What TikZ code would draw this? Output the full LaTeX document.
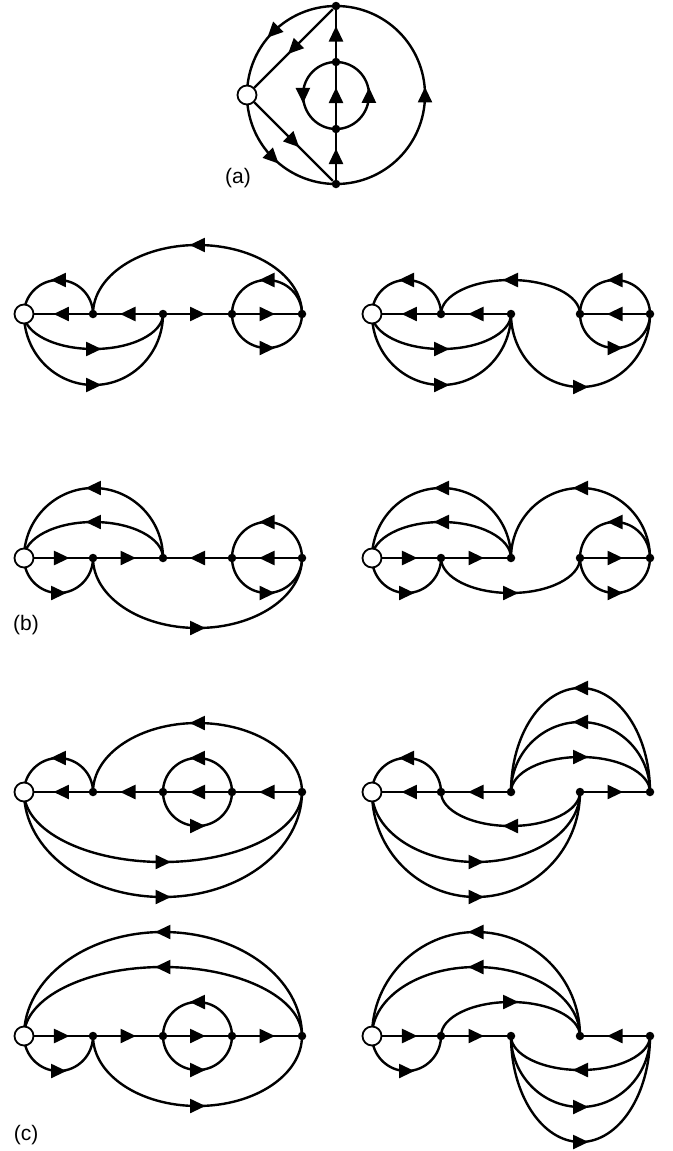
\documentclass[tikz,border=0pt]{standalone}
\usepackage{fontspec}
\setmainfont{Liberation Sans}
\usetikzlibrary{arrows.meta, calc, decorations.markings, backgrounds}
\tikzset{
  bow/.style={to path={let \p1=(\tikztostart), \p2=(\tikztotarget),
    \n1={abs(\x2-\x1)/2}, \n2={\x1>\x2 ? 0 : 180} in
    arc[start angle=\n2, end angle=180-\n2, x radius=\n1, y radius=#1pt]}},
  flow/.style={line width=2.4pt, postaction={decorate}, decoration={markings,
    mark=at position .5 with {\arrow[xshift=8pt]{Triangle[length=15.5pt, width=14pt]}}}},
  hub/.style={circle, draw, line width=1.8pt, fill=white, minimum size=19pt, inner sep=0pt},
  dot/.style={circle, fill=black, minimum size=8.5pt, inner sep=0pt},
  tag/.style={font=\fontsize{21}{21}\selectfont, inner sep=0pt}
}
\begin{document}
\begin{tikzpicture}[x=1pt, y=1pt]
  \useasboundingbox (0,0) rectangle (672,-1151);
  \node[hub] (aO) at (247,-95) {};
  \node[dot] (aT) at (336,-6) {};
  \node[dot] (aB) at (336,-184) {};
  \node[dot] (aU) at (336,-62) {};
  \node[dot] (aL) at (336,-129) {};
  \coordinate (aE) at (425,-95);
  \coordinate (aW) at (303,-95);
  \coordinate (aF) at (369,-95);
  \node[tag] (la) at (238,-178) {(a)};
  \node[tag] (lb) at (26,-625) {(b)};
  \node[tag] (lc) at (26,-1135) {(c)};
  \foreach \n/\x/\y in {b1/24/314, b2/372/314, b3/24/558, b4/372/558, c1/24/792, c2/372/792, c3/24/1036, c4/372/1036} {
    \node[hub] (\n O) at (\x,-\y) {};
    \node[dot] (\n A) at (\x+69,-\y) {};
    \node[dot] (\n B) at (\x+139,-\y) {};
    \node[dot] (\n C) at (\x+208,-\y) {};
    \node[dot] (\n D) at (\x+278,-\y) {};
  }
  \begin{scope}[on background layer]
    \draw[flow] (aT.center) to[out=180, in=90] (aO.center);
    \draw[flow] (aO.center) to[out=-90, in=180] (aB.center);
    \draw[flow] (aT) -- (aO);
    \draw[flow] (aO) -- (aB);
    \draw[flow] (aB) -- (aL);
    \draw[flow] (aL) -- (aU);
    \draw[flow] (aU) -- (aT);
    \draw[flow] (aB.center) to[out=0, in=-90] (aE) to[out=90, in=0] (aT.center);
    \draw[flow] (aU.center) to[out=180, in=90] (aW) to[out=-90, in=180] (aL.center);
    \draw[flow] (aL.center) to[out=0, in=-90] (aF) to[out=90, in=0] (aU.center);

    \draw[flow] (b1A) -- (b1O);
    \draw[flow] (b1B) -- (b1A);
    \draw[flow] (b1B) -- (b1C);
    \draw[flow] (b1C) -- (b1D);
    \draw[flow] (b1A) to[bow=34] (b1O);
    \draw[flow] (b1D) to[bow=69] (b1A);
    \draw[flow] (b1D) to[bow=34] (b1C);
    \draw[flow] (b1C) to[bow=-34] (b1D);
    \draw[flow] (b1O) to[bow=-35] (b1B);
    \draw[flow] (b1O) to[bow=-71] (b1B);

    \draw[flow] (b2A) -- (b2O);
    \draw[flow] (b2B) -- (b2A);
    \draw[flow] (b2D) -- (b2C);
    \draw[flow] (b2A) to[bow=34] (b2O);
    \draw[flow] (b2C) to[bow=34] (b2A);
    \draw[flow] (b2D) to[bow=34] (b2C);
    \draw[flow] (b2C) to[bow=-34] (b2D);
    \draw[flow] (b2O) to[bow=-35] (b2B);
    \draw[flow] (b2O) to[bow=-71] (b2B);
    \draw[flow] (b2B) to[bow=-73] (b2D);

    \draw[flow] (b3O) -- (b3A);
    \draw[flow] (b3A) -- (b3B);
    \draw[flow] (b3C) -- (b3B);
    \draw[flow] (b3D) -- (b3C);
    \draw[flow] (b3B) to[bow=70] (b3O);
    \draw[flow] (b3B) to[bow=36] (b3O);
    \draw[flow] (b3D) to[bow=36] (b3C);
    \draw[flow] (b3C) to[bow=-35] (b3D);
    \draw[flow] (b3O) to[bow=-35] (b3A);
    \draw[flow] (b3A) to[bow=-70] (b3D);

    \draw[flow] (b4O) -- (b4A);
    \draw[flow] (b4A) -- (b4B);
    \draw[flow] (b4C) -- (b4D);
    \draw[flow] (b4B) to[bow=70] (b4O);
    \draw[flow] (b4B) to[bow=36] (b4O);
    \draw[flow] (b4D) to[bow=70] (b4B);
    \draw[flow] (b4D) to[bow=36] (b4C);
    \draw[flow] (b4C) to[bow=-35] (b4D);
    \draw[flow] (b4O) to[bow=-35] (b4A);
    \draw[flow] (b4A) to[bow=-35] (b4C);

    \draw[flow] (c1A) -- (c1O);
    \draw[flow] (c1B) -- (c1A);
    \draw[flow] (c1C) -- (c1B);
    \draw[flow] (c1D) -- (c1C);
    \draw[flow] (c1A) to[bow=34] (c1O);
    \draw[flow] (c1D) to[bow=69] (c1A);
    \draw[flow] (c1C) to[bow=34] (c1B);
    \draw[flow] (c1B) to[bow=-34] (c1C);
    \draw[flow] (c1O) to[bow=-70] (c1D);
    \draw[flow] (c1O) to[bow=-105] (c1D);

    \draw[flow] (c2A) -- (c2O);
    \draw[flow] (c2B) -- (c2A);
    \draw[flow] (c2C) -- (c2D);
    \draw[flow] (c2A) to[bow=34] (c2O);
    \draw[flow] (c2D) to[bow=104] (c2B);
    \draw[flow] (c2D) to[bow=70] (c2B);
    \draw[flow] (c2B) to[bow=35] (c2D);
    \draw[flow] (c2C) to[bow=-34] (c2A);
    \draw[flow] (c2O) to[bow=-70] (c2C);
    \draw[flow] (c2O) to[bow=-105] (c2C);

    \draw[flow] (c3O) -- (c3A);
    \draw[flow] (c3A) -- (c3B);
    \draw[flow] (c3B) -- (c3C);
    \draw[flow] (c3C) -- (c3D);
    \draw[flow] (c3D) to[bow=104] (c3O);
    \draw[flow] (c3D) to[bow=69] (c3O);
    \draw[flow] (c3C) to[bow=34] (c3B);
    \draw[flow] (c3B) to[bow=-34] (c3C);
    \draw[flow] (c3O) to[bow=-35] (c3A);
    \draw[flow] (c3A) to[bow=-70] (c3D);

    \draw[flow] (c4O) -- (c4A);
    \draw[flow] (c4A) -- (c4B);
    \draw[flow] (c4D) -- (c4C);
    \draw[flow] (c4C) to[bow=104] (c4O);
    \draw[flow] (c4C) to[bow=69] (c4O);
    \draw[flow] (c4A) to[bow=34] (c4C);
    \draw[flow] (c4O) to[bow=-35] (c4A);
    \draw[flow] (c4D) to[bow=-34] (c4B);
    \draw[flow] (c4B) to[bow=-71] (c4D);
    \draw[flow] (c4B) to[bow=-106] (c4D);
  \end{scope}
\end{tikzpicture}
\end{document}
